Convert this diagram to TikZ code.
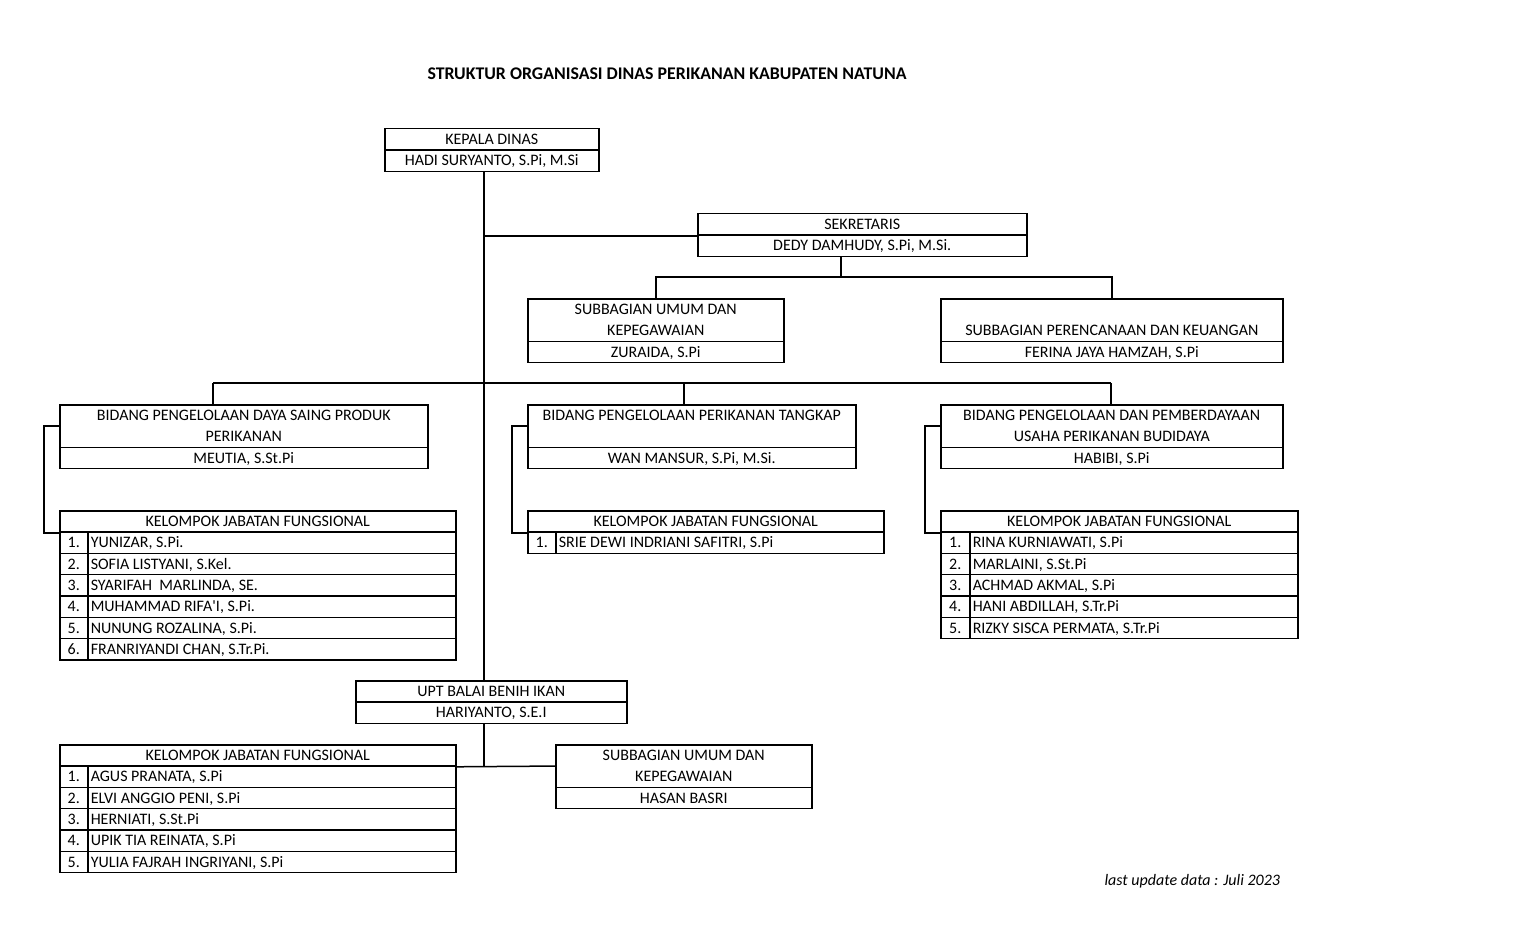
\documentclass[tikz,border=0pt]{standalone}
\usepackage{fontspec}
\setmainfont{Carlito}
\newfontfamily\lurus{Carlito}
\usepackage{tikz}
\newcommand{\isi}{\fontsize{16}{21.3}\selectfont}

\begin{document}
\begin{tikzpicture}[x=1pt,y=-1pt,
  sel/.style={draw,line width=1.5pt,inner sep=0pt,anchor=north west,minimum height=21.3pt,font=\isi,align=center},
  baris/.style={sel,text height=10.3pt,text depth=0pt},
  nama/.style={baris,align=flush left,inner xsep=3pt,text width=#1}]
\useasboundingbox (0,0) rectangle (1536,933);
\node[anchor=west,font=\bfseries\fontsize{17.8}{21}\selectfont] (judul) at (424,74) {STRUKTUR ORGANISASI DINAS PERIKANAN KABUPATEN NATUNA};
\node[baris,minimum width=214pt] (kd) at (384,128) {KEPALA DINAS};
\node[baris,minimum width=214pt] (kdn) at (384,149.3) {HADI SURYANTO, S.Pi, M.Si};
\node[baris,minimum width=329pt] (sek) at (697,213) {SEKRETARIS};
\node[baris,minimum width=329pt] (sekn) at (697,234.3) {DEDY DAMHUDY, S.Pi, M.Si.};
\node[sel,minimum width=256pt,minimum height=42.6pt] (sbu) at (527,298) {SUBBAGIAN UMUM DAN\\KEPEGAWAIAN};
\node[baris,minimum width=256pt] (sbun) at (527,340.6) {ZURAIDA, S.Pi};
\node[sel,minimum width=342pt,minimum height=42.6pt] (sbp) at (940,298) {\vphantom{X}\\SUBBAGIAN PERENCANAAN DAN KEUANGAN};
\node[baris,minimum width=342pt] (sbpn) at (940,340.6) {FERINA JAYA HAMZAH, S.Pi};
\node[sel,minimum width=368pt,minimum height=42.6pt] (bid1) at (59,404) {BIDANG PENGELOLAAN DAYA SAING PRODUK\\PERIKANAN};
\node[baris,minimum width=368pt] (bid1n) at (59,446.6) {MEUTIA, S.St.Pi};
\node[sel,minimum width=328pt,minimum height=42.6pt] (bid2) at (527,404) {BIDANG PENGELOLAAN PERIKANAN TANGKAP\\\vphantom{X}};
\node[baris,minimum width=328pt] (bid2n) at (527,446.6) {WAN MANSUR, S.Pi, M.Si.};
\node[sel,minimum width=342pt,minimum height=42.6pt] (bid3) at (940,404) {BIDANG PENGELOLAAN DAN PEMBERDAYAAN\\USAHA PERIKANAN BUDIDAYA};
\node[baris,minimum width=342pt] (bid3n) at (940,446.6) {HABIBI, S.Pi};
\node[baris,minimum width=396pt] (kjf1) at (59,510) {KELOMPOK JABATAN FUNGSIONAL};
\foreach \nm [count=\i] in {{YUNIZAR, S.Pi.},{SOFIA LISTYANI, S.Kel.},{SYARIFAH\ \ MARLINDA, SE.},{MUHAMMAD RIFA{\lurus'}I, S.Pi.},{NUNUNG ROZALINA, S.Pi.},{FRANRIYANDI CHAN, S.Tr.Pi.}} {
  \node[baris,minimum width=28pt] (kjf1no\i) at (59,510+21.3*\i) {\i.};
  \node[nama=362pt] (kjf1nm\i) at (87,510+21.3*\i) {\nm};
}
\node[baris,minimum width=356pt] (kjf2) at (527,510) {KELOMPOK JABATAN FUNGSIONAL};
\node[baris,minimum width=28pt] (kjf2no1) at (527,531.3) {1.};
\node[nama=322pt] (kjf2nm1) at (555,531.3) {SRIE DEWI INDRIANI SAFITRI, S.Pi};
\node[baris,minimum width=357pt] (kjf3) at (940,510) {KELOMPOK JABATAN FUNGSIONAL};
\foreach \nm [count=\i] in {{RINA KURNIAWATI, S.Pi},{MARLAINI, S.St.Pi},{ACHMAD AKMAL, S.Pi},{HANI ABDILLAH, S.Tr.Pi},{RIZKY SISCA PERMATA, S.Tr.Pi}} {
  \node[baris,minimum width=29pt] (kjf3no\i) at (940,510+21.3*\i) {\i.};
  \node[nama=322pt] (kjf3nm\i) at (969,510+21.3*\i) {\nm};
}
\node[baris,minimum width=271pt] (upt) at (355,680) {UPT BALAI BENIH IKAN};
\node[baris,minimum width=271pt] (uptn) at (355,701.3) {HARIYANTO, S.E.I};
\node[baris,minimum width=396pt] (kjf4) at (59,744) {KELOMPOK JABATAN FUNGSIONAL};
\foreach \nm [count=\i] in {{AGUS PRANATA, S.Pi},{ELVI ANGGIO PENI, S.Pi},{HERNIATI, S.St.Pi},{UPIK TIA REINATA, S.Pi},{YULIA FAJRAH INGRIYANI, S.Pi}} {
  \node[baris,minimum width=28pt] (kjf4no\i) at (59,744+21.3*\i) {\i.};
  \node[nama=362pt] (kjf4nm\i) at (87,744+21.3*\i) {\nm};
}
\node[sel,minimum width=256pt,minimum height=42.6pt] (sbt) at (555,744) {SUBBAGIAN UMUM DAN\\KEPEGAWAIAN};
\node[baris,minimum width=256pt] (sbtn) at (555,786.6) {HASAN BASRI};
\node[anchor=west,font=\itshape\isi] (catatan) at (1101,881) {last update data : Juli 2023};
\coordinate (pokok) at (484,383);
\coordinate (cabs) at (841,277);
\coordinate (t1) at (213,383);
\coordinate (t2) at (684,383);
\coordinate (t3) at (1111,383);
\draw[line width=1.5pt] (kdn.south -| pokok) -- (upt.north -| pokok);
\draw[line width=1.5pt] (sek.south west -| pokok) -- (sek.south west);
\draw[line width=1.5pt] (sekn.south -| cabs) -- (cabs);
\draw[line width=1.5pt] (sbu.north) |- (cabs) -| (sbp.north);
\draw[line width=1.5pt] (t1) -- (t3);
\foreach \t/\b in {t1/bid1,t2/bid2,t3/bid3}
  \draw[line width=1.5pt] (\t) -- (\t |- \b.north);
\foreach \b/\k in {bid1/kjf1,bid2/kjf2,bid3/kjf3}
  \draw[line width=1.5pt] (\b.west) -- ++(-15,0) |- (\k.south west);
\draw[line width=1.5pt] (uptn.south -| pokok) -- (pokok |- sbt.west);
\draw[line width=1.5pt] (kjf4.south east) -- (sbt.west);
\end{tikzpicture}
\end{document}
